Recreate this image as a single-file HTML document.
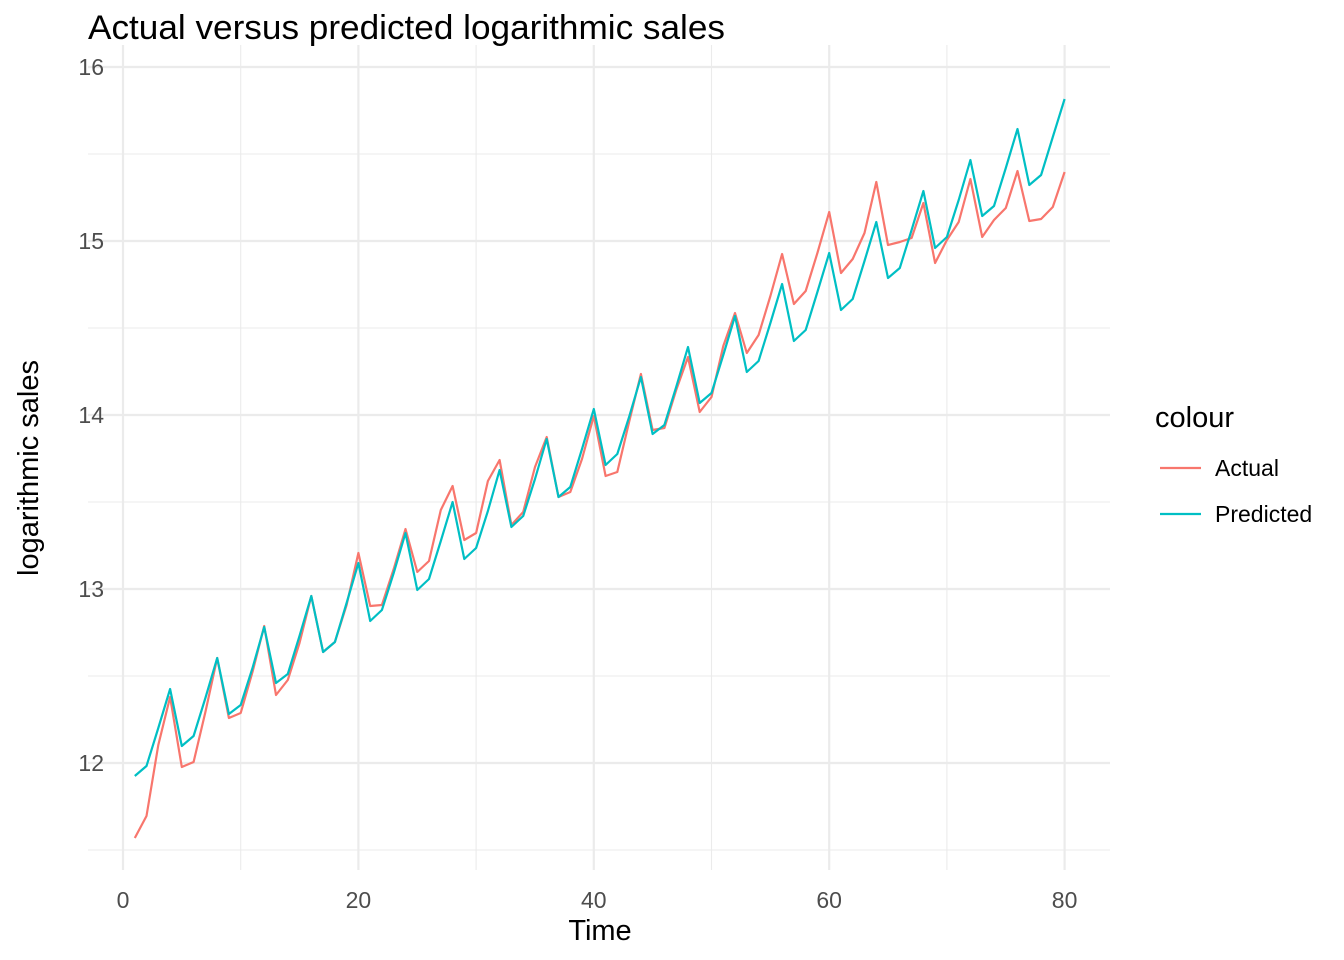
<!DOCTYPE html>
<html><head><meta charset="utf-8"><style>
html,body{margin:0;padding:0;background:#fff;}
svg{display:block;font-family:"Liberation Sans",Arial,sans-serif;}
</style></head><body>
<svg id="s" width="1344" height="960" viewBox="0 0 1344 960">
<rect width="1344" height="960" fill="#fff"/>
<g stroke="#ebebeb" stroke-width="1.1">
<line x1="88" x2="1110" y1="154" y2="154"/><line x1="88" x2="1110" y1="328" y2="328"/>
<line x1="88" x2="1110" y1="502" y2="502"/><line x1="88" x2="1110" y1="676" y2="676"/>
<line x1="88" x2="1110" y1="850" y2="850"/>
<line x1="240.7" x2="240.7" y1="45" y2="870"/><line x1="476.1" x2="476.1" y1="45" y2="870"/>
<line x1="711.5" x2="711.5" y1="45" y2="870"/><line x1="946.9" x2="946.9" y1="45" y2="870"/>
</g>
<g stroke="#ebebeb" stroke-width="2.2">
<line x1="88" x2="1110" y1="67" y2="67"/><line x1="88" x2="1110" y1="241" y2="241"/>
<line x1="88" x2="1110" y1="415" y2="415"/><line x1="88" x2="1110" y1="589" y2="589"/>
<line x1="88" x2="1110" y1="763" y2="763"/>
<line x1="123" x2="123" y1="45" y2="870"/><line x1="358.4" x2="358.4" y1="45" y2="870"/>
<line x1="593.8" x2="593.8" y1="45" y2="870"/><line x1="829.2" x2="829.2" y1="45" y2="870"/>
<line x1="1064.6" x2="1064.6" y1="45" y2="870"/>
</g>
<polyline id="a" fill="none" stroke="#F8766D" stroke-width="2.2" stroke-linejoin="round"/>
<polyline id="p" fill="none" stroke="#00BFC4" stroke-width="2.2" stroke-linejoin="round"/>
<g font-size="23" fill="#4d4d4d" text-anchor="end">
<text x="104" y="75">16</text><text x="104" y="249">15</text><text x="104" y="423">14</text>
<text x="104" y="597">13</text><text x="104" y="771">12</text>
</g>
<g font-size="23" fill="#4d4d4d" text-anchor="middle">
<text x="123" y="908">0</text><text x="358.4" y="908">20</text><text x="593.8" y="908">40</text>
<text x="829.2" y="908">60</text><text x="1064.6" y="908">80</text>
</g>
<text x="600" y="940" font-size="29" text-anchor="middle">Time</text>
<text transform="translate(38,468) rotate(-90)" font-size="29" text-anchor="middle">logarithmic sales</text>
<text x="88" y="39" font-size="34" textLength="637" lengthAdjust="spacingAndGlyphs">Actual versus predicted logarithmic sales</text>
<text x="1155" y="427" font-size="29">colour</text>
<line x1="1160" x2="1201" y1="468" y2="468" stroke="#F8766D" stroke-width="2.2"/>
<line x1="1160" x2="1201" y1="514" y2="514" stroke="#00BFC4" stroke-width="2.2"/>
<text x="1215" y="476" font-size="23">Actual</text>
<text x="1215" y="522" font-size="23">Predicted</text>
</svg>
<script>
var A=[838,816,745,697,767,762,712,658,718,713,672,626,695,680,643,596,652,642,605,553,606,605,569,529,572,561,510,486,540,533,481,460,525,512,467,437,497,492,459,416,476,472,422,374,430,428,390,357,412,397,346,313,353,335,296,254,304,291,253,212,273,259,233,182,245,242,238,203,263,240,222,179,237,220,208,171,221,219,207,172];
var P=[776,766,728,689,746,736,698,658,714,705,668,627,683,674,636,596,652,642,603,563,621,610,573,533,590,579,541,502,559,548,511,470,527,516,479,439,497,487,449,409,465,454,417,377,434,425,387,347,403,393,355,316,372,361,323,284,341,330,292,253,310,299,261,222,278,268,230,191,248,237,200,160,216,206,168,129,185,175,137,99];
function pts(d){return d.map(function(y,i){return (123+11.77*(i+1)).toFixed(1)+","+y}).join(" ");}
document.getElementById("a").setAttribute("points",pts(A));
document.getElementById("p").setAttribute("points",pts(P));
</script>
</body></html>
